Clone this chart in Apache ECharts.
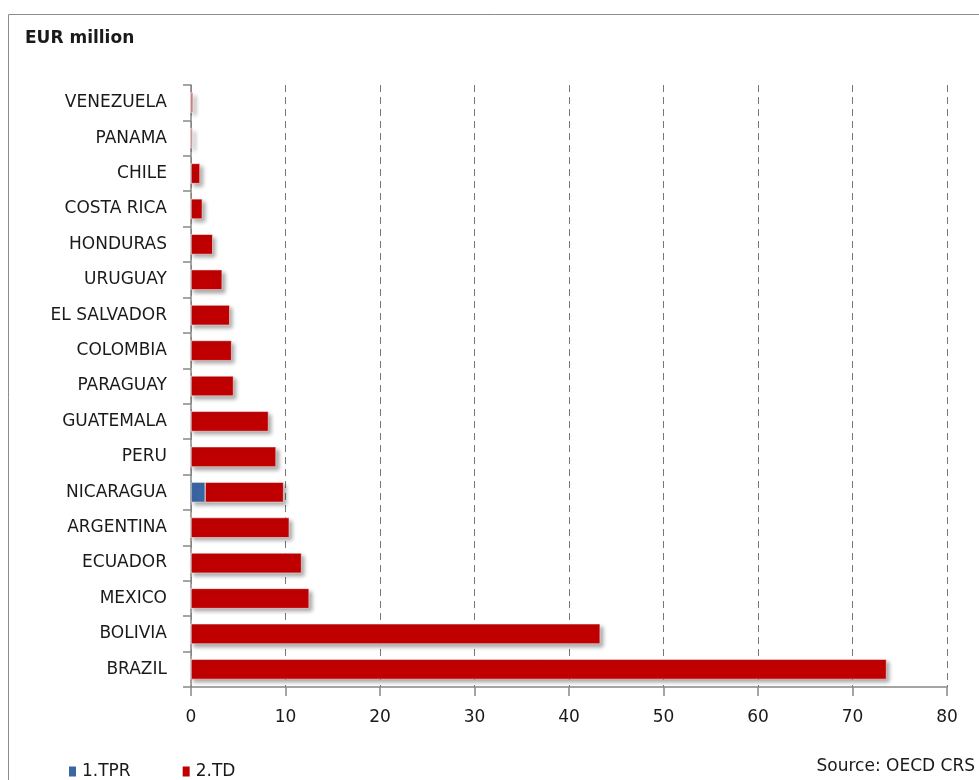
<!DOCTYPE html>
<html><head><meta charset="utf-8">
<script src="https://cdn.jsdelivr.net/npm/echarts@6/dist/echarts.min.js"></script>
<style>html,body{margin:0;padding:0;background:#fff}#c{width:979px;height:780px}</style>
</head><body><div id="c"></div>
<script>
const categories = ["VENEZUELA","PANAMA","CHILE","COSTA RICA","HONDURAS","URUGUAY","EL SALVADOR","COLOMBIA","PARAGUAY","GUATEMALA","PERU","NICARAGUA","ARGENTINA","ECUADOR","MEXICO","BOLIVIA","BRAZIL"];
const tprValues = [0,0,0,0,0,0,0,0,0,0,0,1.5,0,0,0,0,0];
const tdValues = [0.2,0.15,0.95,1.2,2.3,3.3,4.1,4.3,4.5,8.2,9.0,8.3,10.4,11.7,12.5,43.3,73.6];
const xTicks = [0,10,20,30,40,50,60,70,80];

const chart = echarts.init(document.getElementById('c'));
const font = '"DejaVu Sans", "Noto Sans", sans-serif';
const shadow = {shadowColor:'rgba(0,0,0,0.35)', shadowBlur:4, shadowOffsetX:3, shadowOffsetY:3};
chart.setOption({
  animation:false,
  textStyle:{fontFamily:font},
  graphic:[
    {type:'rect', shape:{x:8.5,y:14.5,width:1000,height:1000}, style:{fill:'none',stroke:'#8c8c8c',lineWidth:1}},
    {type:'text', left:25, top:30, style:{text:'EUR million', font:'bold 17px '+font, fill:'#1a1a1a'}},
    {type:'text', right:4, top:758, style:{text:'Source: OECD CRS', font:'17px '+font, fill:'#1a1a1a'}}
  ],
  legend:{left:62, top:758, icon:'rect', itemWidth:9, itemHeight:12, itemGap:50,
    textStyle:{fontSize:17, color:'#1a1a1a', fontFamily:font}, data:['1.TPR','2.TD']},
  grid:{left:191, right:32, top:85, bottom:93, containLabel:false},
  xAxis:{type:'value', min:0, max:80, interval:10,
    axisLine:{show:true, lineStyle:{color:'#888', width:1.5}},
    axisTick:{show:true, length:9, lineStyle:{color:'#888', width:1.5}},
    axisLabel:{fontSize:17, color:'#1a1a1a', margin:22, formatter:v=>xTicks.includes(v)?String(v):''},
    splitLine:{show:true, lineStyle:{color:'#777', type:[7,5], width:1}}
  },
  yAxis:{type:'category', data:categories, inverse:true,
    axisLine:{show:true, lineStyle:{color:'#888', width:1.5}},
    axisTick:{show:true, length:8, lineStyle:{color:'#888', width:1.5}},
    axisLabel:{fontSize:17, color:'#1a1a1a', margin:24}
  },
  series:[
    {name:'1.TPR', type:'bar', stack:'a', data:tprValues, barCategoryGap:'43%',
      itemStyle:Object.assign({color:'#3A66A3', borderColor:'#fff', borderWidth:0.5}, shadow)},
    {name:'2.TD', type:'bar', stack:'a', data:tdValues, barCategoryGap:'43%',
      itemStyle:Object.assign({color:'#C00000', borderColor:'#fff', borderWidth:0.5}, shadow)}
  ]
});
</script></body></html>
